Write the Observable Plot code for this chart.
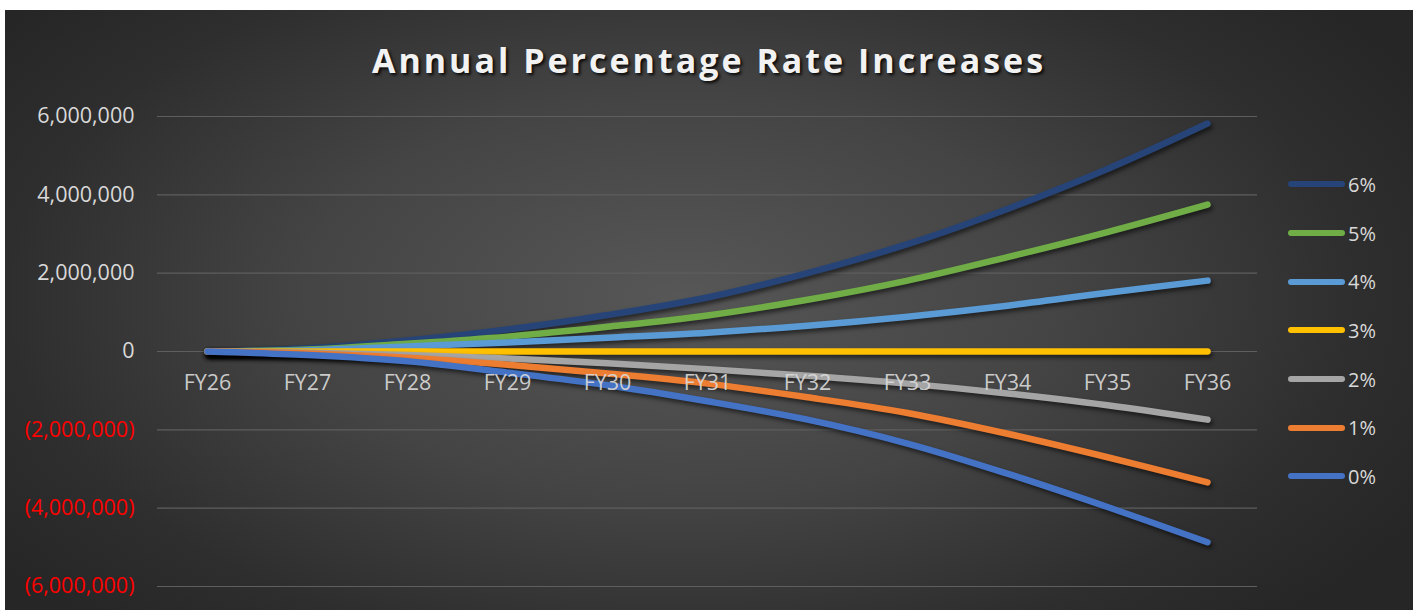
<!DOCTYPE html>
<html>
<head>
<meta charset="utf-8">
<script src="https://cdn.jsdelivr.net/npm/d3@7"></script>
<script src="https://cdn.jsdelivr.net/npm/@observablehq/plot@0.6"></script>
<style>
  html, body { margin: 0; padding: 0; background: #ffffff; }
  #frame {
    position: absolute; left: 5px; top: 10px; width: 1408px; height: 600px; overflow: hidden;
    background: radial-gradient(ellipse 60% 75% at 48% 48%, #575757 0%, #444444 45%, #2e2e2e 80%, #262626 100%);
    font-family: "Open Sans", sans-serif;
  }
  #title {
    height: 80px; box-sizing: border-box; padding-top: 30px; line-height: 40px;
    text-align: center; color: #f2f2f2; font-weight: 700; font-size: 34px; letter-spacing: 3px;
    text-shadow: 2px 2px 3px rgba(0,0,0,0.85);
  }
  #chart { position: absolute; left: 0; top: 80px; }
  #chart g[aria-label="line"] path { filter: drop-shadow(2px 3px 2px rgba(0,0,0,0.55)); }
  #legend { position: absolute; left: 1283px; top: 150px; }
  .item { display: flex; align-items: center; height: 48.7px; }
  .sw { width: 57px; height: 6px; border-radius: 3px; }
  .lab { margin-left: 3px; color: #d9d9d9; font-size: 20px; }
</style>
</head>
<body>
<div id="frame">
  <div id="title">Annual Percentage Rate Increases</div>
  <div id="chart"></div>
  <div id="legend"></div>
</div>
<script>
const years = ["FY26","FY27","FY28","FY29","FY30","FY31","FY32","FY33","FY34","FY35","FY36"];
const series = ["6%","5%","4%","3%","2%","1%","0%"];
const colors = ["#264478","#70AD47","#5B9BD5","#FFC000","#A5A5A5","#ED7D31","#4472C4"];
const v6 = [0, 80000, 280000, 560000, 930000, 1380000, 2000000, 2740000, 3640000, 4660000, 5820000];
const v5 = [0, 50000, 200000, 380000, 630000, 920000, 1320000, 1810000, 2410000, 3050000, 3750000];
const v4 = [0, 30000, 130000, 230000, 350000, 480000, 660000, 890000, 1170000, 1500000, 1810000];
const v3 = [0, 0, 0, 0, 0, 0, 0, 0, 0, 0, 0];
const v2 = [0, -30000, -90000, -180000, -300000, -450000, -620000, -820000, -1070000, -1370000, -1740000];
const v1 = [0, -50000, -160000, -340000, -560000, -820000, -1170000, -1570000, -2100000, -2700000, -3340000];
const v0 = [0, -90000, -250000, -540000, -860000, -1270000, -1740000, -2350000, -3120000, -3970000, -4870000];
const yTicksPos = [0, 2000000, 4000000, 6000000];
const yTicksNeg = [-2000000, -4000000, -6000000];

const valuesBySeries = [v6, v5, v4, v3, v2, v1, v0];
const data = [];
series.forEach((s, i) => years.forEach((y, j) => data.push({series: s, year: y, value: valuesBySeries[i][j]})));

const fmt = d => d < 0 ? `(${d3.format(",")(-d)})` : d3.format(",")(d);

const chart = Plot.plot({
  width: 1408,
  height: 520,
  marginTop: 26,
  marginBottom: 24,
  marginLeft: 152,
  marginRight: 156,
  style: {background: "transparent", fontFamily: "Open Sans, sans-serif", fontSize: "21px", color: "#d9d9d9"},
  x: {type: "point", domain: years, padding: 0.5, axis: null},
  y: {domain: [-6000000, 6000000], axis: null},
  color: {domain: series, range: colors},
  marks: [
    Plot.ruleY([...yTicksNeg, ...yTicksPos], {stroke: "#5e5e5e", strokeWidth: 1.2}),
    Plot.axisY(yTicksPos, {anchor: "left", tickSize: 0, tickPadding: 23, tickFormat: fmt, fill: "#d9d9d9", fontSize: 21.5, label: null}),
    Plot.axisY(yTicksNeg, {anchor: "left", tickSize: 0, tickPadding: 23, tickFormat: fmt, fill: "#ff0000", fontSize: 21.5, label: null}),
    Plot.line(data, {x: "year", y: "value", z: "series", stroke: "series", strokeWidth: 6.5, curve: "catmull-rom", strokeLinecap: "round", strokeLinejoin: "round"}),
    Plot.text(years, {x: d => d, y: () => 0, dy: 32, text: d => d, fill: "#d9d9d9", fillOpacity: 0.92, fontSize: 21.5})
  ]
});
document.getElementById("chart").appendChild(chart);

const legend = document.getElementById("legend");
series.forEach((s, i) => {
  const item = document.createElement("div");
  item.className = "item";
  const sw = document.createElement("span");
  sw.className = "sw";
  sw.style.background = colors[i];
  const lab = document.createElement("span");
  lab.className = "lab";
  lab.textContent = s;
  item.appendChild(sw);
  item.appendChild(lab);
  legend.appendChild(item);
});
</script>
</body>
</html>
